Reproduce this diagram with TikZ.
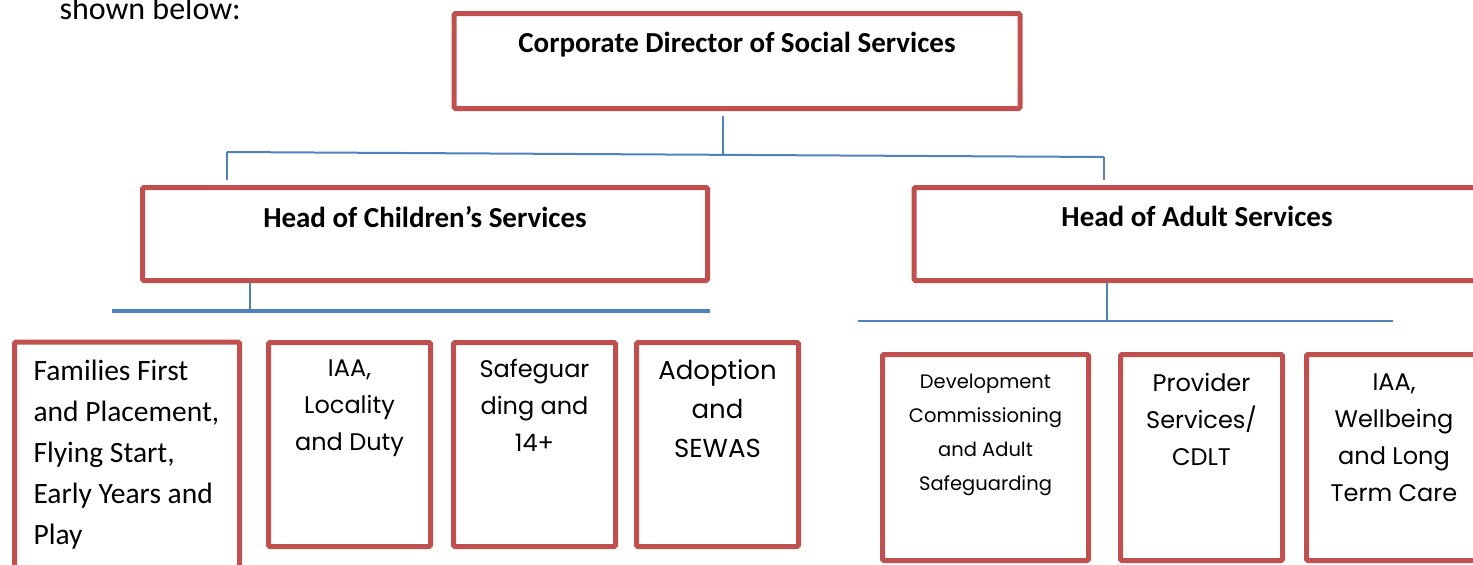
\documentclass[tikz,border=0pt]{standalone}
\usepackage{fontspec}
\setmainfont{Carlito}
\newfontfamily\boxfont{Poppins}
\usetikzlibrary{calc}
\definecolor{boxred}{RGB}{192,80,77}
\definecolor{linkblue}{RGB}{79,129,189}

\begin{document}
\begin{tikzpicture}[x=1pt,y=-1pt,
  box/.style={draw=boxred,line width=5pt,rounded corners=1.5pt,inner sep=0pt},
  link/.style={draw=linkblue,line width=2pt},
  head/.style={font=\fontsize{29}{34}\selectfont\bfseries,anchor=north},
  unit/.style={font=\boxfont\fontsize{24}{37}\selectfont,align=center,anchor=north}]

\useasboundingbox (0,0) rectangle (1473,565);
\node[anchor=base west,font=\fontsize{32}{36}\selectfont] (intro) at (56,19) {shown below:};

% top level and the two heads
\node[box,minimum width=566pt,minimum height=95pt] (cds) at (737,61) {};
\node[head] (cdsText) at ($(cds.north)+(0,18)$) {Corporate Director of Social Services};
\node[box,minimum width=565pt,minimum height=93pt] (hcs) at (425,234) {};
\node[head] (hcsText) at ($(hcs.north)+(0,18)$) {Head of Children’s Services};
\node[box,minimum width=566pt,minimum height=93pt] (has) at (1197,234) {};
\node[head] (hasText) at ($(has.north)+(0,18)$) {Head of Adult Services};

% children's teams
\node[box,minimum width=225pt,minimum height=240pt] (ffp) at (127,462) {};
\node[anchor=north west,align=left,font=\fontsize{29.5}{41}\selectfont] (ffpText) at ($(ffp.north west)+(18,17)$)
  {Families First\\and Placement,\\Flying Start,\\Early Years and\\Play};
\node[box,minimum width=162pt,minimum height=204pt] (ild) at (349.5,444.5) {};
\node[unit] (ildText) at ($(ild.north)+(0,16)$) {IAA,\\Locality\\and Duty};
\node[box,minimum width=162pt,minimum height=204pt] (sfg) at (534.5,444.5) {};
\node[unit] (sfgText) at ($(sfg.north)+(0,16)$) {Safeguar\\ding and\\14+};
\node[box,minimum width=162pt,minimum height=204pt] (ads) at (717.5,444.5) {};
\node[unit,font=\boxfont\fontsize{26}{39}\selectfont] (adsText) at ($(ads.north)+(0,16)$) {Adoption\\and\\SEWAS};

% adult teams
\node[box,minimum width=206pt,minimum height=206pt] (dca) at (985.5,457.5) {};
\node[unit,font=\boxfont\fontsize{19.5}{34}\selectfont] (dcaText) at ($(dca.north)+(0,19)$)
  {Development\\Commissioning\\and Adult\\Safeguarding};
\node[box,minimum width=162pt,minimum height=206pt] (psc) at (1201.5,457.5) {};
\node[unit] (pscText) at ($(psc.north)+(0,18)$) {Provider\\Services/\\CDLT};
\node[box,minimum width=175pt,minimum height=206pt] (iwl) at (1394,457.5) {};
\node[unit] (iwlText) at ($(iwl.north)+(0,18)$) {IAA,\\Wellbeing\\and Long\\Term Care};

% connectors
\coordinate (busL) at (227,152);
\coordinate (busR) at (1104,157);
\coordinate (busT) at (723,154);
\coordinate (cdsTail) at (723,116);
\draw[link] (cdsTail)--(busT);
\draw[link] (busL)--(busR);
\draw[link] (busL)--($(busL |- hcs.north)+(0,-5)$);
\draw[link] (busR)--($(busR |- has.north)+(0,-5)$);

\coordinate (kidsL) at (112,311);
\coordinate (kidsR) at (710,311);
\coordinate (kidsT) at (250,311);
\draw[link] (hcs.south -| kidsT)--(kidsT);
\draw[link,line width=4pt] (kidsL)--(kidsR);

\coordinate (adultL) at (858,321);
\coordinate (adultR) at (1393,321);
\coordinate (adultT) at (1107,321);
\draw[link] (has.south -| adultT)--(adultT);
\draw[link] (adultL)--(adultR);

\end{tikzpicture}
\end{document}
